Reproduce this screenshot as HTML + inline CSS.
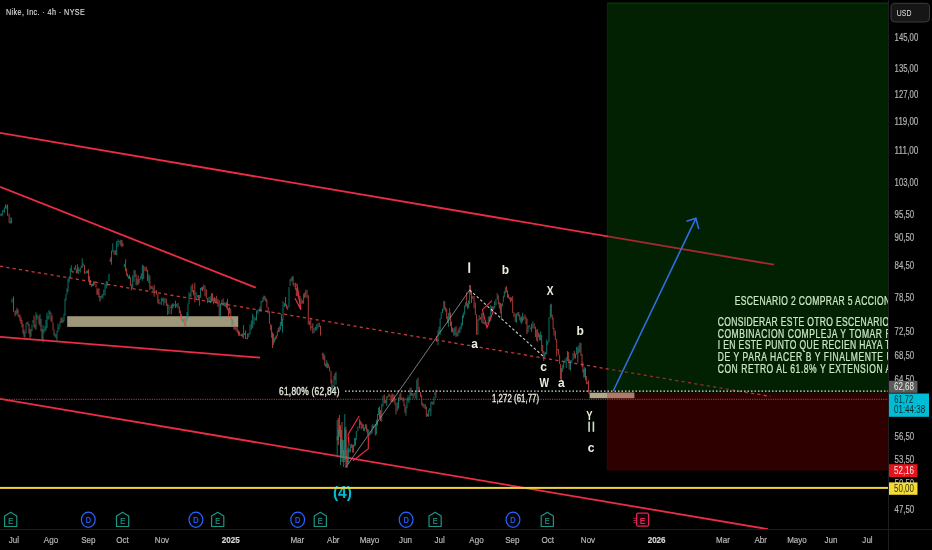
<!DOCTYPE html><html><head><meta charset="utf-8"><style>
html,body{margin:0;padding:0;background:#000;width:932px;height:550px;overflow:hidden}
svg{display:block;font-family:"Liberation Sans", sans-serif;will-change:transform}
</style></head><body>
<svg width="932" height="550" viewBox="0 0 932 550">
<defs><clipPath id="chart"><rect x="0" y="0" width="888" height="529"/></clipPath></defs>
<rect width="932" height="550" fill="#000"/>
<g clip-path="url(#chart)">
<rect x="607" y="2.5" width="281" height="390" fill="#022102"/>
<rect x="607" y="2.6" width="281" height="1.3" fill="#033a03"/><rect x="606.8" y="2.6" width="1.2" height="389.5" fill="#022802"/>
<rect x="607" y="392.7" width="281" height="77.6" fill="#2e0101"/>
<rect x="607" y="469.2" width="281" height="1.1" fill="#380202"/><rect x="606.8" y="392.7" width="1.2" height="77.6" fill="#360202"/>
<rect x="589.6" y="392.7" width="44.6" height="5.5" fill="#b1a88a"/>
<rect x="607" y="392.7" width="27.2" height="5.5" fill="#b07a6a"/>
<line x1="0" y1="132.9" x2="774.1" y2="264.7" stroke="#ec2d44" stroke-width="1.8"/>
<line x1="0" y1="186.8" x2="255.8" y2="287.6" stroke="#ec2d44" stroke-width="1.8"/>
<line x1="0" y1="336.9" x2="260" y2="357.6" stroke="#ec2d44" stroke-width="1.8"/>
<line x1="0" y1="398.8" x2="768" y2="529.2" stroke="#ec2d44" stroke-width="1.8"/>
<line x1="0" y1="266.2" x2="770.3" y2="396.4" stroke="#c83838" stroke-width="1.3" stroke-dasharray="3.2 3.2"/>
<rect x="67.2" y="316.2" width="171" height="10.7" fill="#9e977a"/>
<path d="M1.80 214.4V216.3M5.50 204.3V208.4M7.60 204.5V215.8M9.10 213.7V222.7M10.00 221.5V223.5M13.50 296.6V311.6M15.00 311.0V316.3M17.00 307.8V313.8M18.00 309.5V316.2M19.00 314.9V317.7M20.00 314.5V321.3M21.00 317.3V323.9M22.00 320.1V327.3M23.00 323.9V333.8M24.00 329.5V336.9M27.00 322.0V323.8M29.00 323.8V333.9M30.00 328.8V338.5M34.00 315.6V327.2M35.00 324.3V328.6M38.00 315.6V316.3M39.00 316.1V324.3M41.00 318.7V331.5M42.00 328.9V339.3M51.00 312.7V321.2M52.00 315.5V322.5M53.00 322.5V330.0M54.00 329.5V335.6M61.00 317.8V322.7M63.00 319.5V322.7M72.34 270.6V272.8M75.40 265.3V269.3M76.38 269.3V273.5M77.35 264.3V273.1M79.30 269.6V270.9M81.25 265.8V268.2M83.20 263.4V265.9M84.50 264.9V273.6M88.53 269.2V280.8M89.60 276.2V285.1M90.55 280.1V285.0M91.50 284.2V287.0M94.75 281.3V285.0M96.00 284.0V287.4M96.97 288.2V294.8M97.95 289.2V294.9M98.93 288.2V297.5M99.90 295.8V301.8M101.85 295.3V297.1M110.80 257.3V262.0M114.03 250.4V254.6M115.30 249.9V255.0M119.00 241.0V242.1M121.00 239.6V246.2M122.00 240.3V247.1M123.00 243.3V246.1M125.60 259.3V271.3M126.57 268.3V275.6M127.55 273.6V277.0M129.50 274.7V278.9M130.45 277.1V285.8M131.40 284.4V290.4M135.07 270.2V277.0M136.13 274.3V285.4M138.20 275.3V284.8M141.33 273.4V278.6M143.70 265.5V279.0M145.00 266.9V271.0M146.27 266.5V271.5M147.53 269.7V281.1M149.87 275.6V290.1M150.93 286.1V288.7M152.00 285.7V289.2M154.13 284.9V296.7M155.20 290.6V292.9M156.50 290.3V294.7M157.80 294.0V303.2M158.90 299.0V304.3M163.80 297.6V305.5M166.35 298.6V306.1M167.70 303.6V315.0M171.28 304.7V314.5M173.22 303.3V307.5M175.47 300.7V308.0M178.00 302.9V308.4M179.30 306.5V313.5M180.60 310.4V319.2M181.57 314.2V320.8M183.53 318.7V322.5M184.50 318.0V326.0M190.00 294.0V296.6M192.27 283.8V292.3M193.53 289.9V295.3M194.80 282.7V302.6M198.60 294.9V299.5M202.50 286.7V291.2M205.00 285.7V296.3M206.30 289.3V298.7M207.60 297.9V303.1M212.47 293.3V301.4M214.43 297.1V302.2M216.67 295.8V302.3M217.93 299.1V306.7M219.20 300.2V316.4M223.07 298.4V305.8M225.60 303.1V306.7M226.57 301.7V308.4M227.55 298.8V310.1M228.53 308.2V317.4M229.50 307.1V313.6M230.75 308.7V320.2M233.00 320.3V324.0M234.00 324.6V329.6M235.00 326.6V329.7M236.00 327.3V330.9M237.25 327.1V333.0M238.50 330.3V335.6M239.47 331.6V335.8M241.43 334.0V336.0M242.40 333.5V337.4M245.52 330.4V339.0M246.56 337.8V338.7M255.23 317.7V320.5M260.08 306.6V311.7M264.00 295.5V299.7M265.95 298.1V301.8M266.90 299.4V307.7M268.17 306.9V313.4M269.43 311.2V323.8M270.70 323.8V330.4M271.60 325.3V337.8M272.50 332.4V347.9M276.38 335.3V338.6M278.32 327.8V331.9M281.43 314.0V325.9M285.57 296.9V306.3M286.63 304.3V308.7M291.13 277.9V281.6M293.10 276.2V284.8M294.00 283.3V286.7M295.40 282.7V289.9M296.35 288.1V296.0M297.30 287.1V296.5M298.65 295.7V298.8M300.00 295.9V308.2M302.50 300.5V303.4M304.63 292.7V298.1M307.00 289.9V298.3M308.30 295.2V324.5M310.80 319.2V330.5M311.80 326.3V327.8M312.80 323.4V333.6M319.25 322.7V327.0M320.50 325.7V335.6M322.85 352.6V359.3M324.75 355.5V365.7M325.70 363.6V366.9M327.70 362.5V368.3M328.65 364.3V367.5M329.60 366.8V371.4M331.00 370.8V383.3M331.90 379.7V390.8M335.00 373.1V380.0M337.20 436.4V440.3M340.50 424.9V455.1M342.85 440.6V452.7M343.70 450.3V457.9M345.90 426.8V458.5M347.00 456.4V464.2M351.35 444.0V447.9M352.40 444.6V452.5M360.35 420.6V424.7M361.20 422.1V429.4M362.30 423.6V428.0M363.40 424.4V430.8M366.60 424.6V431.6M367.70 428.8V435.1M369.90 434.0V436.0M375.30 424.1V435.5M379.55 406.5V418.1M380.50 410.2V421.0M384.30 394.7V403.5M385.60 400.1V403.2M387.73 396.2V398.2M388.80 393.7V396.6M389.87 394.5V396.7M390.93 395.6V401.7M392.00 393.3V401.9M393.00 394.2V402.6M394.00 394.6V401.3M395.00 398.1V404.7M396.00 403.5V414.4M400.84 392.4V399.7M401.88 397.4V399.7M402.92 398.2V401.4M403.96 397.3V406.0M405.00 404.6V412.8M411.04 387.8V396.0M412.08 393.0V395.7M415.20 391.8V398.5M418.02 377.5V392.2M419.25 386.8V392.3M420.48 392.0V396.9M421.70 394.9V405.3M422.86 402.9V407.0M425.18 404.1V409.2M426.34 406.5V416.9M427.50 413.8V416.3M429.75 408.1V411.2M432.00 401.2V404.1M435.90 389.6V398.0M436.50 336.1V341.6M444.75 301.3V309.0M445.70 307.4V311.5M446.70 308.8V319.2M447.70 316.3V323.2M450.55 312.5V326.1M451.50 321.7V331.9M452.62 327.6V332.6M456.00 326.3V337.1M459.00 328.5V333.2M466.65 292.4V306.1M467.60 303.3V308.9M470.55 285.1V294.3M471.50 291.5V303.0M472.80 295.9V298.8M474.05 295.9V308.3M475.30 302.5V314.9M476.60 314.2V334.7M480.47 317.1V319.5M483.00 313.0V324.0M485.00 321.6V324.6M487.00 322.1V323.8M492.75 306.0V310.2M498.27 295.3V304.4M499.33 302.0V308.6M500.40 303.1V313.5M506.43 286.1V292.2M507.50 290.4V297.8M508.48 294.4V298.2M509.45 297.5V299.5M510.42 297.1V302.3M511.40 297.5V301.1M512.70 296.2V313.0M513.95 312.3V317.1M515.20 313.7V322.0M518.77 312.1V316.4M519.75 314.9V320.4M521.70 316.4V323.9M523.80 316.6V320.3M525.00 314.5V318.5M526.00 317.1V324.3M527.00 318.7V334.2M529.20 325.0V327.2M531.60 323.7V331.9M534.17 323.3V328.7M535.43 326.6V337.1M536.70 329.3V340.8M538.65 332.5V337.2M539.62 334.3V340.3M541.67 334.9V351.4M542.73 344.9V353.5M543.80 351.0V361.2M551.25 303.7V316.7M552.20 314.7V319.5M553.10 317.5V329.1M554.00 327.9V335.7M555.35 330.7V340.0M556.70 339.0V356.4M558.60 349.0V355.0M559.60 354.7V364.0M560.60 364.1V379.4M568.35 352.1V361.6M569.20 359.2V369.6M574.30 350.9V358.4M575.47 353.7V358.6M577.80 347.6V362.8M580.95 343.1V355.8M582.00 353.9V366.8M582.90 362.4V372.4M583.80 369.1V377.7M585.50 368.3V379.9M586.35 376.0V384.3M587.20 381.6V384.1M588.50 380.4V391.6M589.00 390.0V394.2M338.30 418.0V445.0M339.40 415.0V437.0M341.30 430.0V458.0M342.00 422.0V462.0M343.70 450.0V467.0M345.90 430.0V468.0M347.00 450.0V468.0" stroke="#de5049" stroke-width="0.75" fill="none"/>
<path d="M0.90 213.3V216.1M2.70 210.1V215.2M3.60 210.3V211.6M4.55 207.4V212.7M6.90 205.3V209.4M10.90 217.2V223.4M11.60 218.3V223.3M12.00 298.5V302.8M16.00 309.9V315.0M25.00 332.0V337.9M26.00 323.3V332.9M28.00 321.5V325.6M31.00 329.5V336.6M32.00 324.5V330.9M33.00 320.1V323.4M36.00 312.3V329.9M37.00 314.7V319.7M40.00 314.0V326.3M43.00 325.0V342.6M44.00 329.3V333.0M45.00 326.1V331.1M46.00 319.8V330.4M47.00 312.6V327.9M48.00 315.8V319.2M49.00 310.0V319.5M50.00 311.3V314.3M55.00 333.3V336.8M56.00 334.6V338.0M57.00 330.9V340.8M58.00 323.6V331.9M59.00 327.4V329.3M60.00 321.3V327.4M62.00 317.0V323.1M64.00 313.8V321.3M65.00 298.8V315.2M66.00 294.2V300.6M67.00 288.4V294.6M68.00 278.5V291.8M69.15 276.1V282.4M70.30 268.1V278.1M71.32 265.3V271.9M73.36 271.2V272.7M74.38 267.6V270.3M78.33 267.3V274.1M80.28 267.9V272.5M82.22 258.3V267.8M85.45 272.5V273.9M86.40 270.6V273.3M87.47 270.5V273.2M92.50 283.6V286.0M93.50 281.3V285.9M100.88 296.1V299.8M102.83 294.0V298.6M103.80 289.5V295.5M105.07 283.5V295.5M106.33 280.9V288.5M107.60 281.4V285.8M109.00 273.9V281.3M109.90 259.5V261.3M111.50 250.5V264.7M112.77 243.3V252.2M116.65 241.2V255.3M118.00 239.4V246.9M120.00 240.6V244.6M124.40 264.0V267.3M128.53 275.9V278.8M132.70 275.3V288.3M134.00 270.2V281.6M137.20 278.7V284.9M139.20 279.1V283.2M140.27 276.5V279.7M142.40 264.7V280.7M148.80 274.1V283.0M153.07 287.4V291.0M160.00 302.4V303.9M161.30 297.6V305.0M162.60 298.3V301.5M165.00 298.2V303.2M169.00 304.7V313.9M170.30 306.8V307.7M172.25 303.7V308.8M174.20 304.3V305.8M176.73 303.7V306.9M182.55 318.5V322.3M185.75 317.8V326.9M187.00 312.0V320.7M188.00 303.6V318.3M189.00 292.1V304.0M191.00 285.7V297.0M196.07 291.9V299.6M197.33 295.1V297.6M199.57 295.1V305.7M200.55 288.0V297.7M201.53 287.3V290.1M203.75 284.5V289.6M209.00 296.8V302.1M210.25 296.4V303.1M211.50 293.1V302.3M213.45 298.1V304.4M215.40 298.2V302.6M220.50 303.4V316.7M221.80 299.8V305.3M224.33 302.2V306.4M232.00 318.7V325.7M240.45 334.6V335.7M243.44 325.0V338.5M244.48 333.0V334.8M247.60 333.5V339.3M248.80 333.1V337.2M250.00 324.5V334.5M251.35 320.5V330.0M252.70 313.8V328.3M253.97 316.2V324.8M256.50 310.3V320.6M257.80 309.8V313.7M259.10 308.8V311.5M261.05 301.0V311.9M262.02 300.7V302.5M263.00 296.8V302.0M265.00 296.0V300.4M273.47 333.7V344.9M274.43 337.8V342.4M275.40 336.4V340.2M277.35 330.6V336.4M279.30 326.5V332.1M280.37 321.9V330.2M282.50 318.9V332.6M283.00 301.1V319.9M284.50 303.0V306.9M287.70 306.0V310.1M289.00 287.0V307.5M290.07 279.4V286.1M292.20 276.2V280.7M301.25 298.4V303.9M303.57 293.6V303.9M305.70 289.8V297.1M309.55 320.7V325.1M314.10 327.8V333.0M315.40 326.6V330.6M316.70 324.4V330.3M318.00 323.1V328.5M321.90 354.0V354.9M323.80 353.7V360.1M326.70 360.2V367.8M332.80 385.3V391.4M334.00 375.8V387.2M336.00 371.7V384.9M338.30 429.6V440.0M339.40 427.3V433.7M342.00 439.3V457.2M344.80 427.5V459.5M348.10 448.0V464.2M349.20 449.0V452.3M350.30 444.5V452.3M353.50 444.7V452.8M354.60 438.0V446.6M355.45 438.0V445.5M356.30 430.9V439.8M357.90 426.5V431.4M359.50 418.7V428.4M364.45 427.4V431.1M365.50 424.1V428.8M368.80 429.7V434.3M370.95 431.1V433.8M372.00 425.5V433.8M372.85 423.9V428.0M373.70 425.7V427.8M376.40 419.6V434.3M377.50 413.9V425.6M378.60 407.6V415.1M381.75 403.9V421.7M383.00 395.5V406.6M386.67 396.4V405.9M397.27 402.2V411.2M398.53 397.1V408.7M399.80 394.1V401.0M406.00 406.8V415.8M407.00 398.0V408.1M408.00 395.2V400.8M409.00 397.2V403.1M410.00 387.6V399.6M413.12 393.6V398.6M414.16 393.3V395.3M416.80 379.5V398.9M424.02 404.1V408.0M428.62 409.9V416.8M430.88 402.1V416.0M432.98 402.6V405.0M433.95 396.2V404.3M434.92 392.3V395.3M438.00 330.3V345.2M439.07 326.8V333.0M440.13 318.3V335.0M441.20 312.3V319.0M442.50 308.8V313.1M443.80 300.9V310.6M448.65 312.9V326.9M449.60 307.9V318.0M453.75 328.3V335.8M454.88 327.3V335.3M457.00 332.7V335.8M458.00 330.5V336.5M460.00 326.3V332.7M461.25 322.6V329.3M462.50 315.2V325.6M463.57 312.6V318.1M464.63 305.5V314.7M465.70 302.4V307.2M468.60 300.4V308.2M469.60 285.0V304.1M477.90 318.9V334.8M479.20 315.1V320.5M481.73 313.1V322.8M484.00 322.0V323.7M486.00 324.1V325.4M488.27 316.6V322.5M489.53 316.2V321.7M490.80 305.1V321.1M491.77 306.4V312.4M493.73 306.6V309.7M494.70 301.3V308.1M495.95 298.9V305.3M497.20 293.0V299.3M501.40 303.8V319.7M502.40 302.8V306.4M503.35 295.8V302.2M504.30 291.2V297.1M505.37 287.3V293.6M516.50 313.4V322.7M517.80 312.2V315.6M520.73 317.4V322.5M522.60 312.7V321.7M528.10 325.8V332.2M530.30 327.3V329.5M532.90 321.4V328.4M537.68 329.3V342.2M540.60 331.5V340.5M544.75 352.6V357.2M545.70 352.1V354.8M546.70 339.7V354.1M547.70 341.4V344.9M549.00 317.2V342.3M550.30 304.6V318.2M557.65 349.0V350.3M561.45 368.1V382.3M562.30 364.8V371.8M563.60 361.6V368.8M564.90 359.2V362.9M566.20 357.0V368.0M567.50 351.0V361.1M570.50 360.3V370.8M571.80 359.7V363.2M573.05 353.0V360.4M576.63 346.7V354.5M578.85 345.3V353.4M579.90 342.5V352.1M584.65 366.9V377.2M337.20 420.0V455.0M340.50 440.0V465.0M343.00 440.0V462.0M344.80 414.0V462.0M348.10 445.0V462.0" stroke="#14998a" stroke-width="0.75" fill="none"/>
<rect x="608" y="3.9" width="280" height="388.5" fill="#022102" fill-opacity="0.3"/>
<rect x="608" y="398" width="280" height="71" fill="#2e0101" fill-opacity="0.3"/>
<polyline points="346,467 469.6,290" stroke="#9a9a9a" stroke-width="0.8" fill="none"/>
<polyline points="469.6,290 544,357" stroke="#d0d0d0" stroke-width="1.1" stroke-dasharray="2.6 2.2" fill="none"/>
<polyline points="349,445 348.1,434.5 359.2,416" stroke="#ec2d44" stroke-width="1.1" fill="none"/>
<polyline points="368.3,435.6 368.3,448.7 353,460.7" stroke="#ec2d44" stroke-width="1.1" fill="none"/>
<polyline points="296.8,283.6 300.9,309.8 295,298.2" stroke="#ec2d44" stroke-width="1.2" fill="none"/>
<polyline points="482.4,309.6 492,300.6" stroke="#ec2d44" stroke-width="1.1" fill="none"/>
<polyline points="482.4,309.6 487,327.6 493.4,311" stroke="#ec2d44" stroke-width="1.1" fill="none"/>
<line x1="0" y1="399.3" x2="888" y2="399.3" stroke="#a84440" stroke-width="1" stroke-dasharray="1.2 1.1"/>
<line x1="345" y1="391.2" x2="888" y2="391.2" stroke="#dcdcd4" stroke-width="1.3" stroke-dasharray="1.5 2.0"/>
<polyline points="613.2,391 695.9,218.3" stroke="#2f6fe0" stroke-width="1.6" fill="none"/>
<polyline points="686.5,221.3 695.9,218.3 698.8,229.1" stroke="#2f6fe0" stroke-width="1.6" fill="none"/>
<text x="279" y="395.1" font-size="10.8" font-weight="normal" fill="#e6e6dc" stroke="#e6e6dc" stroke-width="0.35" textLength="77.69" lengthAdjust="spacing" transform="translate(279 0) scale(0.78 1) translate(-279 0)">61,80% (62,84)</text>
<text x="492" y="402.3" font-size="10.2" font-weight="normal" fill="#e6e6dc" stroke="#e6e6dc" stroke-width="0.35" textLength="61.84" lengthAdjust="spacing" transform="translate(492 0) scale(0.76 1) translate(-492 0)">1,272 (61,77)</text>
<rect x="468.3" y="262.3" width="1.9" height="10.6" fill="#e6f0dc"/>
<text x="505.30" y="273.80" font-size="12" fill="#e6f0dc" font-weight="bold" text-anchor="middle" >b</text>
<text x="550.20" y="294.80" font-size="12" fill="#e6f0dc" font-weight="bold" text-anchor="middle" textLength="6.8" lengthAdjust="spacingAndGlyphs" >X</text>
<text x="580.20" y="334.50" font-size="12" fill="#e6f0dc" font-weight="bold" text-anchor="middle" >b</text>
<text x="474.70" y="347.80" font-size="12" fill="#e6f0dc" font-weight="bold" text-anchor="middle" >a</text>
<text x="543.50" y="370.60" font-size="12" fill="#e6f0dc" font-weight="bold" text-anchor="middle" >c</text>
<text x="544.20" y="386.50" font-size="12.5" fill="#e6f0dc" font-weight="bold" text-anchor="middle" textLength="9.5" lengthAdjust="spacingAndGlyphs" >W</text>
<text x="561.40" y="386.50" font-size="12" fill="#e6f0dc" font-weight="bold" text-anchor="middle" >a</text>
<text x="589.40" y="419.80" font-size="12" fill="#e6f0dc" font-weight="bold" text-anchor="middle" textLength="6.3" lengthAdjust="spacingAndGlyphs" >Y</text>
<rect x="588.3" y="421.6" width="1.6" height="10.2" fill="#c9e4c5"/><rect x="592.6" y="421.6" width="1.6" height="10.2" fill="#c9e4c5"/>
<text x="591.00" y="451.70" font-size="12" fill="#e6f0dc" font-weight="bold" text-anchor="middle" >c</text>
<text x="342.40" y="497.80" font-size="17" fill="#00bcd4" font-weight="bold" text-anchor="middle" textLength="19" lengthAdjust="spacingAndGlyphs" >(4)</text>
<rect x="0" y="486.9" width="888" height="2" fill="#eed43a"/>
<text x="734.7" y="304.8" font-size="12.2" fill="#cde8c4" stroke="#cde8c4" stroke-width="0.25" textLength="239.3" lengthAdjust="spacing" transform="translate(734.7 0) scale(0.7 1) translate(-734.7 0)">ESCENARIO 2 COMPRAR 5 ACCIONES</text>
<text x="717.7" y="325.9" font-size="12.2" fill="#cde8c4" stroke="#cde8c4" stroke-width="0.25" textLength="288.6" lengthAdjust="spacing" transform="translate(717.7 0) scale(0.7 1) translate(-717.7 0)">CONSIDERAR ESTE OTRO ESCENARIO COMO</text>
<text x="717.7" y="337.7" font-size="12.2" fill="#cde8c4" stroke="#cde8c4" stroke-width="0.25" textLength="247.1" lengthAdjust="spacing" transform="translate(717.7 0) scale(0.7 1) translate(-717.7 0)">COMBINACION COMPLEJA Y TOMAR F</text>
<text x="717.7" y="349.4" font-size="12.2" fill="#cde8c4" stroke="#cde8c4" stroke-width="0.25" textLength="246.4" lengthAdjust="spacing" transform="translate(717.7 0) scale(0.7 1) translate(-717.7 0)">I EN ESTE PUNTO QUE RECIEN HAYA T</text>
<text x="717.7" y="361.2" font-size="12.2" fill="#cde8c4" stroke="#cde8c4" stroke-width="0.25" textLength="250.0" lengthAdjust="spacing" transform="translate(717.7 0) scale(0.7 1) translate(-717.7 0)">DE Y PARA HACER B Y FINALMENTE U</text>
<text x="717.7" y="373.0" font-size="12.2" fill="#cde8c4" stroke="#cde8c4" stroke-width="0.25" textLength="247.9" lengthAdjust="spacing" transform="translate(717.7 0) scale(0.7 1) translate(-717.7 0)">CON RETRO AL 61.8% Y EXTENSION A</text>
</g>
<rect x="888" y="0" width="44" height="550" fill="#000"/>
<rect x="888" y="0" width="1" height="550" fill="#1d1d1d"/>
<rect x="0" y="529" width="932" height="1.1" fill="#1d1d1d"/>
<rect x="891" y="3.3" width="38.5" height="18.7" rx="4" fill="#161616" stroke="#3c3c3c" stroke-width="1"/>
<text x="896.80" y="16.20" font-size="9.8" fill="#e0e0e0" font-weight="normal" text-anchor="start" textLength="14.6" lengthAdjust="spacingAndGlyphs" >USD</text>
<text x="894.60" y="41.10" font-size="10" fill="#b4b4b4" font-weight="normal" text-anchor="start" textLength="23.6" lengthAdjust="spacingAndGlyphs" stroke="#b4b4b4" stroke-width="0.2">145,00</text>
<text x="894.60" y="71.60" font-size="10" fill="#b4b4b4" font-weight="normal" text-anchor="start" textLength="23.6" lengthAdjust="spacingAndGlyphs" stroke="#b4b4b4" stroke-width="0.2">135,00</text>
<text x="894.60" y="97.60" font-size="10" fill="#b4b4b4" font-weight="normal" text-anchor="start" textLength="23.6" lengthAdjust="spacingAndGlyphs" stroke="#b4b4b4" stroke-width="0.2">127,00</text>
<text x="894.60" y="125.00" font-size="10" fill="#b4b4b4" font-weight="normal" text-anchor="start" textLength="23.6" lengthAdjust="spacingAndGlyphs" stroke="#b4b4b4" stroke-width="0.2">119,00</text>
<text x="894.60" y="154.00" font-size="10" fill="#b4b4b4" font-weight="normal" text-anchor="start" textLength="23.6" lengthAdjust="spacingAndGlyphs" stroke="#b4b4b4" stroke-width="0.2">111,00</text>
<text x="894.60" y="186.00" font-size="10" fill="#b4b4b4" font-weight="normal" text-anchor="start" textLength="23.6" lengthAdjust="spacingAndGlyphs" stroke="#b4b4b4" stroke-width="0.2">103,00</text>
<text x="894.60" y="218.00" font-size="10" fill="#b4b4b4" font-weight="normal" text-anchor="start" textLength="19.6" lengthAdjust="spacingAndGlyphs" stroke="#b4b4b4" stroke-width="0.2">95,50</text>
<text x="894.60" y="240.60" font-size="10" fill="#b4b4b4" font-weight="normal" text-anchor="start" textLength="19.6" lengthAdjust="spacingAndGlyphs" stroke="#b4b4b4" stroke-width="0.2">90,50</text>
<text x="894.60" y="269.00" font-size="10" fill="#b4b4b4" font-weight="normal" text-anchor="start" textLength="19.6" lengthAdjust="spacingAndGlyphs" stroke="#b4b4b4" stroke-width="0.2">84,50</text>
<text x="894.60" y="301.00" font-size="10" fill="#b4b4b4" font-weight="normal" text-anchor="start" textLength="19.6" lengthAdjust="spacingAndGlyphs" stroke="#b4b4b4" stroke-width="0.2">78,50</text>
<text x="894.60" y="334.60" font-size="10" fill="#b4b4b4" font-weight="normal" text-anchor="start" textLength="19.6" lengthAdjust="spacingAndGlyphs" stroke="#b4b4b4" stroke-width="0.2">72,50</text>
<text x="894.60" y="358.60" font-size="10" fill="#b4b4b4" font-weight="normal" text-anchor="start" textLength="19.6" lengthAdjust="spacingAndGlyphs" stroke="#b4b4b4" stroke-width="0.2">68,50</text>
<text x="894.60" y="382.90" font-size="10" fill="#b4b4b4" font-weight="normal" text-anchor="start" textLength="19.6" lengthAdjust="spacingAndGlyphs" stroke="#b4b4b4" stroke-width="0.2">64,50</text>
<text x="894.60" y="439.50" font-size="10" fill="#b4b4b4" font-weight="normal" text-anchor="start" textLength="19.6" lengthAdjust="spacingAndGlyphs" stroke="#b4b4b4" stroke-width="0.2">56,50</text>
<text x="894.60" y="463.00" font-size="10" fill="#b4b4b4" font-weight="normal" text-anchor="start" textLength="19.6" lengthAdjust="spacingAndGlyphs" stroke="#b4b4b4" stroke-width="0.2">53,50</text>
<text x="894.60" y="487.00" font-size="10" fill="#b4b4b4" font-weight="normal" text-anchor="start" textLength="19.6" lengthAdjust="spacingAndGlyphs" stroke="#b4b4b4" stroke-width="0.2">50,50</text>
<text x="894.60" y="513.00" font-size="10" fill="#b4b4b4" font-weight="normal" text-anchor="start" textLength="19.6" lengthAdjust="spacingAndGlyphs" stroke="#b4b4b4" stroke-width="0.2">47,50</text>
<rect x="889" y="380.8" width="28.5" height="12" fill="#5b5b5b"/>
<text x="893.90" y="389.80" font-size="10" fill="#f0f0e6" font-weight="normal" text-anchor="start" textLength="20.2" lengthAdjust="spacingAndGlyphs" >62,68</text>
<rect x="889" y="393.5" width="40" height="23.3" fill="#00bcd4"/>
<text x="894.20" y="402.60" font-size="10" fill="#06282c" font-weight="normal" text-anchor="start" textLength="19.1" lengthAdjust="spacingAndGlyphs" >61,72</text>
<text x="894.00" y="412.90" font-size="10" fill="#06282c" font-weight="normal" text-anchor="start" textLength="31.1" lengthAdjust="spacingAndGlyphs" >01:44:38</text>
<rect x="889" y="464.2" width="28.5" height="12.8" fill="#e3141b"/>
<text x="894.00" y="474.20" font-size="10" fill="#f4f4f4" font-weight="normal" text-anchor="start" textLength="20" lengthAdjust="spacingAndGlyphs" >52,16</text>
<rect x="889" y="482.4" width="28.5" height="12.4" fill="#f3dc3a"/>
<text x="894.00" y="492.30" font-size="10" fill="#3a3400" font-weight="normal" text-anchor="start" textLength="20" lengthAdjust="spacingAndGlyphs" >50,00</text>
<text x="14.00" y="543.20" font-size="9.8" fill="#b8b8b8" font-weight="normal" text-anchor="middle" transform="translate(14.00 0) scale(0.82 1) translate(-14.00 0)" stroke="#b8b8b8" stroke-width="0.2">Jul</text>
<text x="51.00" y="543.20" font-size="9.8" fill="#b8b8b8" font-weight="normal" text-anchor="middle" transform="translate(51.00 0) scale(0.82 1) translate(-51.00 0)" stroke="#b8b8b8" stroke-width="0.2">Ago</text>
<text x="88.30" y="543.20" font-size="9.8" fill="#b8b8b8" font-weight="normal" text-anchor="middle" transform="translate(88.30 0) scale(0.82 1) translate(-88.30 0)" stroke="#b8b8b8" stroke-width="0.2">Sep</text>
<text x="122.40" y="543.20" font-size="9.8" fill="#b8b8b8" font-weight="normal" text-anchor="middle" transform="translate(122.40 0) scale(0.82 1) translate(-122.40 0)" stroke="#b8b8b8" stroke-width="0.2">Oct</text>
<text x="162.00" y="543.20" font-size="9.8" fill="#b8b8b8" font-weight="normal" text-anchor="middle" transform="translate(162.00 0) scale(0.82 1) translate(-162.00 0)" stroke="#b8b8b8" stroke-width="0.2">Nov</text>
<text x="230.80" y="543.20" font-size="9.8" fill="#d8d8d8" font-weight="bold" text-anchor="middle" transform="translate(230.80 0) scale(0.82 1) translate(-230.80 0)" stroke="#d8d8d8" stroke-width="0.2">2025</text>
<text x="297.30" y="543.20" font-size="9.8" fill="#b8b8b8" font-weight="normal" text-anchor="middle" transform="translate(297.30 0) scale(0.82 1) translate(-297.30 0)" stroke="#b8b8b8" stroke-width="0.2">Mar</text>
<text x="333.30" y="543.20" font-size="9.8" fill="#b8b8b8" font-weight="normal" text-anchor="middle" transform="translate(333.30 0) scale(0.82 1) translate(-333.30 0)" stroke="#b8b8b8" stroke-width="0.2">Abr</text>
<text x="369.50" y="543.20" font-size="9.8" fill="#b8b8b8" font-weight="normal" text-anchor="middle" transform="translate(369.50 0) scale(0.82 1) translate(-369.50 0)" stroke="#b8b8b8" stroke-width="0.2">Mayo</text>
<text x="405.60" y="543.20" font-size="9.8" fill="#b8b8b8" font-weight="normal" text-anchor="middle" transform="translate(405.60 0) scale(0.82 1) translate(-405.60 0)" stroke="#b8b8b8" stroke-width="0.2">Jun</text>
<text x="439.60" y="543.20" font-size="9.8" fill="#b8b8b8" font-weight="normal" text-anchor="middle" transform="translate(439.60 0) scale(0.82 1) translate(-439.60 0)" stroke="#b8b8b8" stroke-width="0.2">Jul</text>
<text x="476.50" y="543.20" font-size="9.8" fill="#b8b8b8" font-weight="normal" text-anchor="middle" transform="translate(476.50 0) scale(0.82 1) translate(-476.50 0)" stroke="#b8b8b8" stroke-width="0.2">Ago</text>
<text x="512.30" y="543.20" font-size="9.8" fill="#b8b8b8" font-weight="normal" text-anchor="middle" transform="translate(512.30 0) scale(0.82 1) translate(-512.30 0)" stroke="#b8b8b8" stroke-width="0.2">Sep</text>
<text x="547.70" y="543.20" font-size="9.8" fill="#b8b8b8" font-weight="normal" text-anchor="middle" transform="translate(547.70 0) scale(0.82 1) translate(-547.70 0)" stroke="#b8b8b8" stroke-width="0.2">Oct</text>
<text x="588.00" y="543.20" font-size="9.8" fill="#b8b8b8" font-weight="normal" text-anchor="middle" transform="translate(588.00 0) scale(0.82 1) translate(-588.00 0)" stroke="#b8b8b8" stroke-width="0.2">Nov</text>
<text x="656.60" y="543.20" font-size="9.8" fill="#d8d8d8" font-weight="bold" text-anchor="middle" transform="translate(656.60 0) scale(0.82 1) translate(-656.60 0)" stroke="#d8d8d8" stroke-width="0.2">2026</text>
<text x="723.00" y="543.20" font-size="9.8" fill="#b8b8b8" font-weight="normal" text-anchor="middle" transform="translate(723.00 0) scale(0.82 1) translate(-723.00 0)" stroke="#b8b8b8" stroke-width="0.2">Mar</text>
<text x="760.70" y="543.20" font-size="9.8" fill="#b8b8b8" font-weight="normal" text-anchor="middle" transform="translate(760.70 0) scale(0.82 1) translate(-760.70 0)" stroke="#b8b8b8" stroke-width="0.2">Abr</text>
<text x="797.00" y="543.20" font-size="9.8" fill="#b8b8b8" font-weight="normal" text-anchor="middle" transform="translate(797.00 0) scale(0.82 1) translate(-797.00 0)" stroke="#b8b8b8" stroke-width="0.2">Mayo</text>
<text x="831.00" y="543.20" font-size="9.8" fill="#b8b8b8" font-weight="normal" text-anchor="middle" transform="translate(831.00 0) scale(0.82 1) translate(-831.00 0)" stroke="#b8b8b8" stroke-width="0.2">Jun</text>
<text x="867.50" y="543.20" font-size="9.8" fill="#b8b8b8" font-weight="normal" text-anchor="middle" transform="translate(867.50 0) scale(0.82 1) translate(-867.50 0)" stroke="#b8b8b8" stroke-width="0.2">Jul</text>
<path d="M4.6 516.1 L10.7 512.3 L16.8 516.1 V526.5 H4.6 Z" fill="#020605" stroke="#1d9484" stroke-width="1.2" stroke-linejoin="round"/>
<text x="10.70" y="523.90" font-size="8.6" fill="#1d9484" font-weight="normal" text-anchor="middle" transform="translate(10.70 0) scale(0.85 1) translate(-10.70 0)" stroke="#1d9484" stroke-width="0.25">E</text>
<path d="M116.5 516.1 L122.6 512.3 L128.7 516.1 V526.5 H116.5 Z" fill="#020605" stroke="#1d9484" stroke-width="1.2" stroke-linejoin="round"/>
<text x="122.60" y="523.90" font-size="8.6" fill="#1d9484" font-weight="normal" text-anchor="middle" transform="translate(122.60 0) scale(0.85 1) translate(-122.60 0)" stroke="#1d9484" stroke-width="0.25">E</text>
<path d="M211.6 516.1 L217.7 512.3 L223.8 516.1 V526.5 H211.6 Z" fill="#020605" stroke="#1d9484" stroke-width="1.2" stroke-linejoin="round"/>
<text x="217.70" y="523.90" font-size="8.6" fill="#1d9484" font-weight="normal" text-anchor="middle" transform="translate(217.70 0) scale(0.85 1) translate(-217.70 0)" stroke="#1d9484" stroke-width="0.25">E</text>
<path d="M314.2 516.1 L320.3 512.3 L326.4 516.1 V526.5 H314.2 Z" fill="#020605" stroke="#1d9484" stroke-width="1.2" stroke-linejoin="round"/>
<text x="320.30" y="523.90" font-size="8.6" fill="#1d9484" font-weight="normal" text-anchor="middle" transform="translate(320.30 0) scale(0.85 1) translate(-320.30 0)" stroke="#1d9484" stroke-width="0.25">E</text>
<path d="M429.0 516.1 L435.1 512.3 L441.2 516.1 V526.5 H429.0 Z" fill="#020605" stroke="#1d9484" stroke-width="1.2" stroke-linejoin="round"/>
<text x="435.10" y="523.90" font-size="8.6" fill="#1d9484" font-weight="normal" text-anchor="middle" transform="translate(435.10 0) scale(0.85 1) translate(-435.10 0)" stroke="#1d9484" stroke-width="0.25">E</text>
<path d="M541.2 516.1 L547.3 512.3 L553.4 516.1 V526.5 H541.2 Z" fill="#020605" stroke="#1d9484" stroke-width="1.2" stroke-linejoin="round"/>
<text x="547.30" y="523.90" font-size="8.6" fill="#1d9484" font-weight="normal" text-anchor="middle" transform="translate(547.30 0) scale(0.85 1) translate(-547.30 0)" stroke="#1d9484" stroke-width="0.25">E</text>
<ellipse cx="88.3" cy="519.7" rx="6.9" ry="7.6" fill="#010308" stroke="#2962ff" stroke-width="1.2"/>
<text x="88.30" y="523.00" font-size="8.6" fill="#2962ff" font-weight="normal" text-anchor="middle" transform="translate(88.30 0) scale(0.85 1) translate(-88.30 0)" stroke="#2962ff" stroke-width="0.25">D</text>
<ellipse cx="195.9" cy="519.7" rx="6.9" ry="7.6" fill="#010308" stroke="#2962ff" stroke-width="1.2"/>
<text x="195.90" y="523.00" font-size="8.6" fill="#2962ff" font-weight="normal" text-anchor="middle" transform="translate(195.90 0) scale(0.85 1) translate(-195.90 0)" stroke="#2962ff" stroke-width="0.25">D</text>
<ellipse cx="297.7" cy="519.7" rx="6.9" ry="7.6" fill="#010308" stroke="#2962ff" stroke-width="1.2"/>
<text x="297.70" y="523.00" font-size="8.6" fill="#2962ff" font-weight="normal" text-anchor="middle" transform="translate(297.70 0) scale(0.85 1) translate(-297.70 0)" stroke="#2962ff" stroke-width="0.25">D</text>
<ellipse cx="406.1" cy="519.7" rx="6.9" ry="7.6" fill="#010308" stroke="#2962ff" stroke-width="1.2"/>
<text x="406.10" y="523.00" font-size="8.6" fill="#2962ff" font-weight="normal" text-anchor="middle" transform="translate(406.10 0) scale(0.85 1) translate(-406.10 0)" stroke="#2962ff" stroke-width="0.25">D</text>
<ellipse cx="513" cy="519.7" rx="6.9" ry="7.6" fill="#010308" stroke="#2962ff" stroke-width="1.2"/>
<text x="513.00" y="523.00" font-size="8.6" fill="#2962ff" font-weight="normal" text-anchor="middle" transform="translate(513.00 0) scale(0.85 1) translate(-513.00 0)" stroke="#2962ff" stroke-width="0.25">D</text>
<rect x="636.6" y="513.2" width="12" height="13" rx="1.5" fill="#1a0408" stroke="#e0245a" stroke-width="1.3"/>
<path d="M633.3 518.3h3M633.3 520.5h3M633.3 522.7h3" stroke="#e0245a" stroke-width="0.8"/>
<text x="642.60" y="523.80" font-size="8.5" fill="#e0245a" font-weight="bold" text-anchor="middle" >E</text>
<text x="5.9" y="15.1" font-size="8.8" font-weight="normal" fill="#dcdcdc" stroke="#dcdcdc" stroke-width="0.15" textLength="96.34" lengthAdjust="spacing" transform="translate(5.9 0) scale(0.82 1) translate(-5.9 0)">Nike, Inc. · 4h · NYSE</text>
</svg></body></html>
